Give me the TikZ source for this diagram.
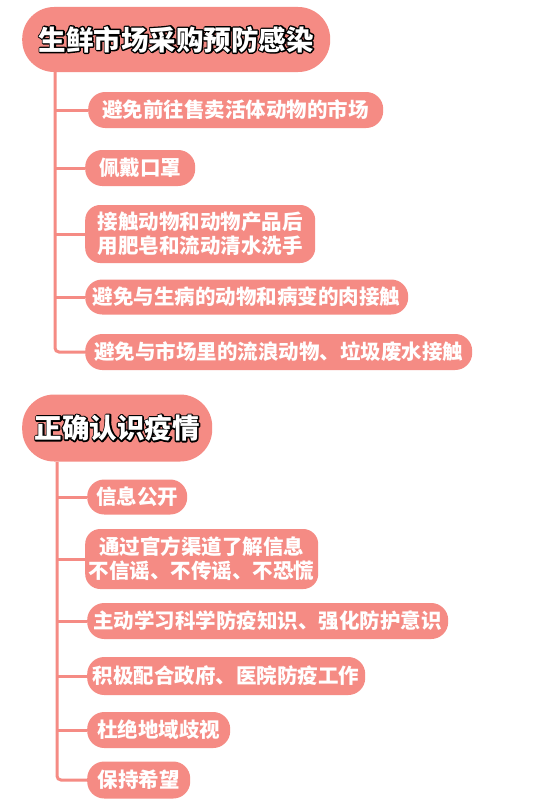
\documentclass[tikz,border=0pt]{standalone}
\usepackage{fontspec}
\newfontfamily\cjk{Noto Sans CJK SC}
\definecolor{salmon}{RGB}{245,139,132}
\tikzset{
  pill/.style={fill=salmon, draw=none, anchor=west, text=white, inner sep=0pt,
     font=\cjk\bfseries\fontsize{20.5}{24}\selectfont, minimum height=36pt, rounded corners=17pt},
  head/.style={fill=salmon, draw=none, anchor=west, inner sep=0pt, rounded corners=32pt},
  htext/.style={font=\cjk\bfseries\fontsize{27.5}{30}\selectfont, inner sep=0pt, text=white},
  hshadow/.style={font=\cjk\bfseries\fontsize{27.5}{30}\selectfont, inner sep=0pt, text=black},
  conn/.style={draw=salmon, line width=3pt},
}
\newcommand\strokedtext[1]{\special{pdf:literal direct 2 Tr 2.8 w 1 j 0 G 0 g}#1\special{pdf:literal direct 0 Tr}}
\begin{document}
\begin{tikzpicture}[x=1pt,y=-1pt]
\useasboundingbox[fill=white] (0,0) rectangle (533,800);
% section 1
\node[head, minimum width=308pt, minimum height=65pt] (h1) at (22,39.5) {};
\node[hshadow] (h1s) at (h1.center) {\strokedtext{生鲜市场采购预防感染}};
\node[htext] (h1t) at (h1.center) {生鲜市场采购预防感染};
\node[pill, minimum width=295pt] (i1) at (88,110) {避免前往售卖活体动物的市场};
\node[pill, minimum width=110pt] (i2) at (85,168) {佩戴口罩};
\node[pill, minimum width=230pt, minimum height=58pt, rounded corners=15pt, align=left] (i3) at (85,234) {接触动物和动物产品后\\用肥皂和流动清水洗手};
\node[pill, minimum width=323pt, minimum height=35pt] (i4) at (85,297) {避免与生病的动物和病变的肉接触};
\node[pill, minimum width=387pt] (i5) at (85,352) {避免与市场里的流浪动物、垃圾废水接触};
\coordinate (t1) at (55,72);
\draw[conn, rounded corners=4pt] (t1) |- (i5.west);
\foreach \n in {i1,i2,i3,i4}{\draw[conn] (t1 |- \n.west) -- (\n.west);}
% section 2
\node[head, minimum width=190pt, minimum height=67pt] (h2) at (22,428) {};
\node[hshadow] (h2s) at (h2.center) {\strokedtext{正确认识疫情}};
\node[htext] (h2t) at (h2.center) {正确认识疫情};
\node[pill, minimum width=100pt, minimum height=35pt] (a) at (87,497) {信息公开};
\node[pill, minimum width=233pt, minimum height=60pt, rounded corners=15pt, align=center] (b) at (85,559) {通过官方渠道了解信息\\不信谣、不传谣、不恐慌};
\node[pill, minimum width=361pt] (c) at (87,621) {主动学习科学防疫知识、强化防护意识};
\node[pill, minimum width=278pt, minimum height=38pt] (d) at (87,676) {积极配合政府、医院防疫工作};
\node[pill, minimum width=143pt] (e) at (87,730) {杜绝地域歧视};
\node[pill, minimum width=103pt, minimum height=37pt] (f) at (87,780) {保持希望};
\coordinate (t2) at (57,462);
\draw[conn, rounded corners=4pt] (t2) |- (f.west);
\foreach \n in {a,b,c,d,e}{\draw[conn] (t2 |- \n.west) -- (\n.west);}
\end{tikzpicture}
\end{document}
